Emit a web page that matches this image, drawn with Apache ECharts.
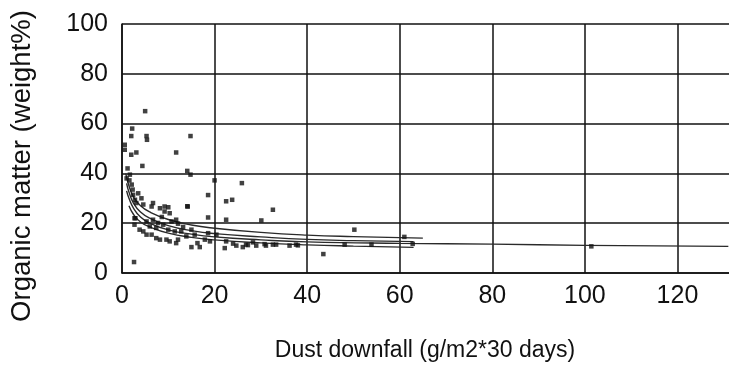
<!DOCTYPE html>
<html>
<head>
<meta charset="utf-8">
<script src="https://cdn.jsdelivr.net/npm/echarts@6/dist/echarts.min.js"></script>
<style>html,body{margin:0;padding:0;background:#fff}#chart{width:729px;height:370px}</style>
</head>
<body>
<div id="chart"></div>
<script>
// Tick values
const xTicks = [0, 20, 40, 60, 80, 100, 120];
const yTicks = [0, 20, 40, 60, 80, 100];

// Scatter observations (dust downfall, organic matter %)
const pointsX = [5, 2.2, 2.0, 5.3, 5.4, 14.8, 0.6, 0.6, 2.0, 3.1, 11.7, 4.4, 14.1, 14.8, 20, 25.9, 18.6, 22.5, 23.8, 32.6,
  14.1, 18.6, 22.5, 30.1, 50.2, 43.5, 2.6, 61, 101.4,
  1.7, 1.6, 2.1, 2.3, 2.4, 2.8, 3.1, 4.6, 6.7, 6.4, 8.2, 9.2, 10, 9.2, 10.3, 14.2,
  2.9, 5.3, 6.7, 7.8, 8.9, 10.7, 11.7, 12.1, 6.0, 7.4, 10, 11.4, 12.8, 15.0, 15.7, 13.9,
  3.8, 4.6, 5.3, 6.4, 7.4, 8.2, 9.6, 10.3, 11.7, 12.1, 15.0, 16.8, 17.9, 18.6, 19, 20.4,
  22.2, 22.5, 24.7, 26.1, 26.8, 29, 31.1, 32.6, 33.3, 36.2, 37.6, 27.2, 30.8, 38,
  2.7, 2.7, 1.2, 1.0, 48.1, 53.9, 62.8, 3.5, 4.2, 8.6, 13.2, 16.3, 24.0, 28.3];
const pointsY = [65, 58, 55, 55, 53.5, 55, 51.5, 49.5, 47.5, 48.4, 48.4, 43, 41, 39.5, 37.2, 36.1, 31.3, 28.8, 29.4, 25.4,
  26.8, 22.3, 21.4, 21.1, 17.4, 7.6, 4.4, 14.5, 10.7,
  39.5, 37.2, 35.5, 33.5, 31.4, 29.4, 28.1, 27.5, 28.1, 26.7, 26, 26.7, 26.4, 24.7, 24, 26.7,
  22, 20.7, 21.4, 20.1, 19.4, 20.7, 21.4, 19.8, 18.7, 18.1, 17.4, 16.7, 16.7, 17.4, 15.4, 14.7,
  17.4, 16.7, 15.4, 15.4, 14, 13.4, 13.4, 12.7, 12, 13.4, 10.4, 10.4, 13.4, 16, 12.7, 15.4,
  10, 12.7, 11, 10.4, 11.4, 11, 11, 11.4, 11.4, 11, 11.4, 11.2, 11.6, 11.1,
  22, 19.4, 42, 38, 11.4, 11.4, 11.7, 32, 30, 22.5, 18.5, 12, 11.8, 12.3];

// Fitted curves
const curve1X = [0.8, 1.5, 2.5, 4, 6, 10, 15, 20, 30, 40, 50, 65];
const curve1Y = [40, 35, 30.5, 27, 24.5, 21.5, 19.3, 18, 16.3, 15.2, 14.6, 14.0];
const curve2X = [1, 1.5, 2.5, 4, 6, 10, 15, 20, 30, 40, 50, 63];
const curve2Y = [36, 32.5, 28, 24.5, 22, 19, 17, 15.8, 14.5, 13.5, 13, 12.6];
const curve3X = [1, 1.5, 2.5, 4, 6, 10, 15, 20, 30, 40, 60, 80, 100, 131];
const curve3Y = [33, 30, 26, 22.5, 20, 17.3, 15.6, 14.5, 13.3, 12.5, 11.9, 11.6, 11.1, 10.7];
const curve4X = [1.5, 2.5, 4, 6, 10, 15, 20, 30, 40, 50, 63];
const curve4Y = [27, 23.5, 20.5, 18.5, 16, 14.3, 13.3, 12.1, 11.3, 10.8, 10.3];

const zip = (a, b) => a.map((v, i) => [v, b[i]]);
const lineSeries = (xs, ys) => ({
  type: 'line', data: zip(xs, ys), smooth: true, symbol: 'none',
  lineStyle: { color: '#2a2a2a', width: 1.4 }, z: 3, silent: true
});

const font = 'Liberation Sans, Arial, sans-serif';
const chart = echarts.init(document.getElementById('chart'));
chart.setOption({
  animation: false,
  backgroundColor: '#ffffff',
  grid: { left: 122, top: 24, width: 648, height: 249, containLabel: false, outerBoundsMode: 'none' },
  xAxis: {
    type: 'value', min: 0, max: 140, interval: 20,
    name: 'Dust downfall (g/m2*30 days)', nameLocation: 'middle', nameGap: 66,
    nameTextStyle: { color: '#111', fontSize: 23, fontFamily: font, padding: [0, 42, 0, 0] },
    axisLine: { show: true, lineStyle: { color: '#111', width: 1.5 } },
    axisTick: { show: false },
    axisLabel: { color: '#111', fontSize: 25, margin: 11, fontFamily: font,
      formatter: v => xTicks.includes(v) ? String(v) : '' },
    splitLine: { show: true, lineStyle: { color: '#111', width: 1.5 } }
  },
  yAxis: {
    type: 'value', min: 0, max: 100, interval: 20,
    axisLine: { show: true, lineStyle: { color: '#111', width: 1.5 } },
    axisTick: { show: false },
    axisLabel: { color: '#111', fontSize: 25, margin: 14, fontFamily: font,
      formatter: v => yTicks.includes(v) ? String(v) : '' },
    splitLine: { show: true, lineStyle: { color: '#111', width: 1.5 } }
  },
  graphic: [{
    type: 'text', x: 22, y: 166, rotation: Math.PI / 2,
    style: { text: 'Organic matter (weight%)', fill: '#111', fontSize: 27.5,
      fontFamily: font, align: 'center', verticalAlign: 'middle' }
  }],
  series: [
    { type: 'scatter', data: zip(pointsX, pointsY), symbol: 'rect', symbolSize: 4.5,
      itemStyle: { color: '#111' }, z: 4 },
    lineSeries(curve1X, curve1Y),
    lineSeries(curve2X, curve2Y),
    lineSeries(curve3X, curve3Y),
    lineSeries(curve4X, curve4Y)
  ]
});
</script>
</body>
</html>
